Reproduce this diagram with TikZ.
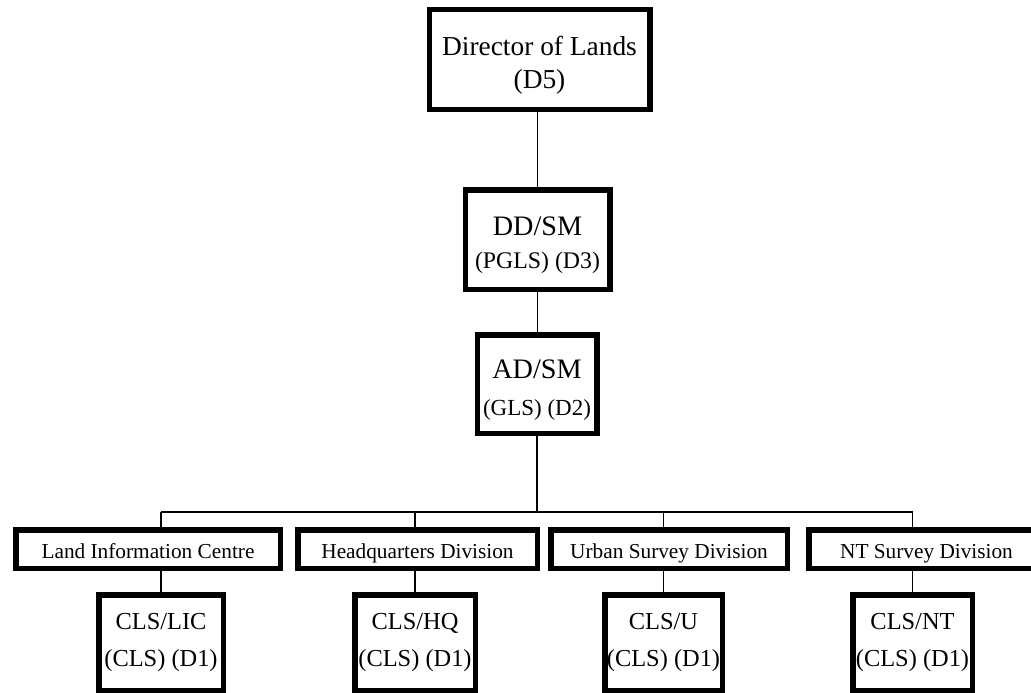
\documentclass[tikz,border=0pt]{standalone}
\usepackage{fontspec}
\setmainfont{Liberation Serif}
\usetikzlibrary{backgrounds}

\begin{document}
\begin{tikzpicture}[x=1pt, y=-1pt,
    post/.style={draw, fill=white, line width=5.5pt, inner sep=0pt, align=center},
    division/.style={post, minimum height=38.5pt, text height=20pt, text depth=2pt,
                     font=\fontsize{21.3}{24}\selectfont},
    officer/.style={post, minimum height=95.5pt, font=\fontsize{24.4}{37}\selectfont},
    wire/.style={line width=1.3pt}]
        \clip (0,0) rectangle (1031,693);

        % top of the chain
        \node[post, minimum width=220.5pt, minimum height=99.5pt,
              font=\fontsize{27.4}{33}\selectfont] (director) at (539.5,59.5)
              {\rule{0pt}{30pt}Director of Lands\\(D5)};
        \node[post, minimum width=144.5pt, minimum height=99.5pt,
              font=\fontsize{28.2}{33}\selectfont] (ddsm) at (537.5,239.5)
              {\rule{0pt}{30pt}DD/SM\\{\fontsize{23.8}{33}\selectfont (PGLS) (D3)}};
        \node[post, minimum width=119.5pt, minimum height=98.5pt,
              font=\fontsize{28.2}{37}\selectfont] (adsm) at (537,384)
              {\rule{0pt}{30pt}AD/SM\\{\fontsize{23}{37}\selectfont (GLS) (D2)}};

        % divisions
        \node[division, minimum width=264.5pt] (lic) at (148,549) {Land Information Centre};
        \node[division, minimum width=239.5pt] (hq) at (417.5,549) {Headquarters Division};
        \node[division, minimum width=236.5pt] (urban) at (669,549) {Urban Survey Division};
        \node[division, minimum width=235.5pt] (nt) at (926.5,549) {NT Survey Division};

        % chief land surveyors
        \node[officer, minimum width=124.5pt] (clslic) at (161,642.5) {CLS/LIC\\(CLS) (D1)};
        \node[officer, minimum width=120.5pt] (clshq) at (415,642.5) {CLS/HQ\\(CLS) (D1)};
        \node[officer, minimum width=117.5pt] (clsu) at (663.5,642.5) {CLS/U\\(CLS) (D1)};
        \node[officer, minimum width=119.5pt] (clsnt) at (912.5,642.5) {CLS/NT\\(CLS) (D1)};

        \coordinate (bus) at (537,512);

        \begin{scope}[on background layer]
          \draw[wire] (ddsm.north) -- (ddsm.north |- director.south);
          \draw[wire] (ddsm.south) -- (ddsm.south |- adsm.north);
          \draw[wire] (adsm.south) -- (bus);
          \draw[wire] (clslic.north |- bus) -- (clsnt.north |- bus);
          \foreach \n in {clslic,clshq,clsu,clsnt} {
            \draw[wire] (\n.north |- bus) -- (\n.north);
          }
        \end{scope}
\end{tikzpicture}
\end{document}
